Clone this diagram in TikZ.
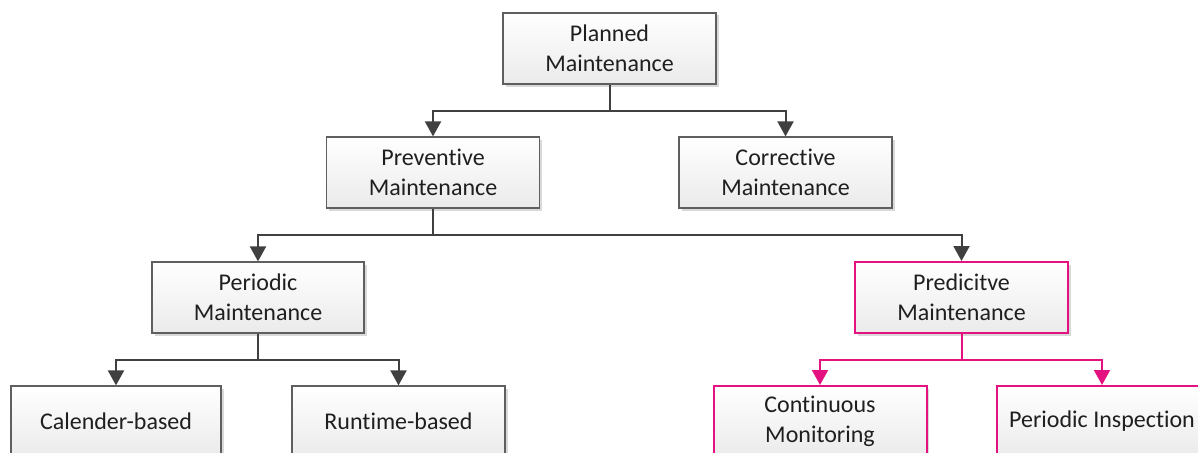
\documentclass[tikz,border=0pt]{standalone}
\usepackage{fontspec}
\setmainfont{Carlito}[Ligatures=NoCommon,RawFeature={-liga;-clig;-dlig}]
\usetikzlibrary{arrows.meta,shadows,calc}
\definecolor{boxline}{RGB}{95,95,95}
\definecolor{conncol}{RGB}{64,64,64}
\definecolor{hilite}{RGB}{228,18,128}
\tikzset{
  mbox/.style={draw=boxline, line width=1.2pt, top color=white, bottom color=black!8,
    minimum width=213pt, minimum height=71pt, inner sep=0pt, align=center,
    font=\fontsize{24}{30}\selectfont, text=black!88,
    drop shadow={shadow xshift=2.5pt, shadow yshift=-2.5pt, fill=black!25, opacity=0.6}},
  pbox/.style={mbox, draw=hilite, line width=2pt},
  conn/.style={draw=conncol, line width=2pt, -{Triangle[width=16pt,length=15pt]}},
  pconn/.style={draw=hilite, line width=2pt, -{Triangle[width=16pt,length=15pt]}},
}
\begin{document}
\begin{tikzpicture}[x=1pt,y=1pt]
\useasboundingbox (0,0) rectangle (1198,-452);
\clip (0,0) rectangle (1198,-452);

% boxes
\node[mbox] (planned) at (609.5,-48.5) {Planned\\Maintenance};
\node[mbox] (prev) at (433,-172.5) {Preventive\\Maintenance};
\node[mbox] (corr) at (785.5,-172.5) {Corrective\\Maintenance};
\node[mbox, minimum width=212pt] (peri) at (258,-297.5) {Periodic\\Maintenance};
\node[pbox] (pred) at (961.5,-297.5) {Predicitve\\Maintenance};
\node[mbox, minimum width=210pt] (cal) at (116,-421.5) {Calender-based};
\node[mbox] (run) at (398.5,-421.5) {Runtime-based};
\node[pbox] (cont) at (820,-421.5) {Continuous\\Monitoring};
\node[pbox, minimum width=210pt] (insp) at (1102,-421.5) {Periodic Inspection};

% junction points halfway between levels
\coordinate (j1) at ($(planned.south)!0.5!(planned.south|-prev.north)$);
\coordinate (j2) at ($(prev.south)!0.5!(prev.south|-peri.north)$);
\coordinate (j3) at ($(peri.south)!0.5!(peri.south|-cal.north)$);
\coordinate (j4) at ($(pred.south)!0.5!(pred.south|-cont.north)$);

% connectors
\draw[draw=conncol, line width=2pt] (planned.south) -- (j1);
\draw[conn] (j1) -| (prev.north);
\draw[conn] (j1) -| (corr.north);
\draw[draw=conncol, line width=2pt] (prev.south) -- (j2);
\draw[conn] (j2) -| (peri.north);
\draw[conn] (j2) -| (pred.north);
\draw[draw=conncol, line width=2pt] (peri.south) -- (j3);
\draw[conn] (j3) -| (cal.north);
\draw[conn] (j3) -| (run.north);
\draw[draw=hilite, line width=2pt] (pred.south) -- (j4);
\draw[pconn] (j4) -| (cont.north);
\draw[pconn] (j4) -| (insp.north);
\end{tikzpicture}
\end{document}
